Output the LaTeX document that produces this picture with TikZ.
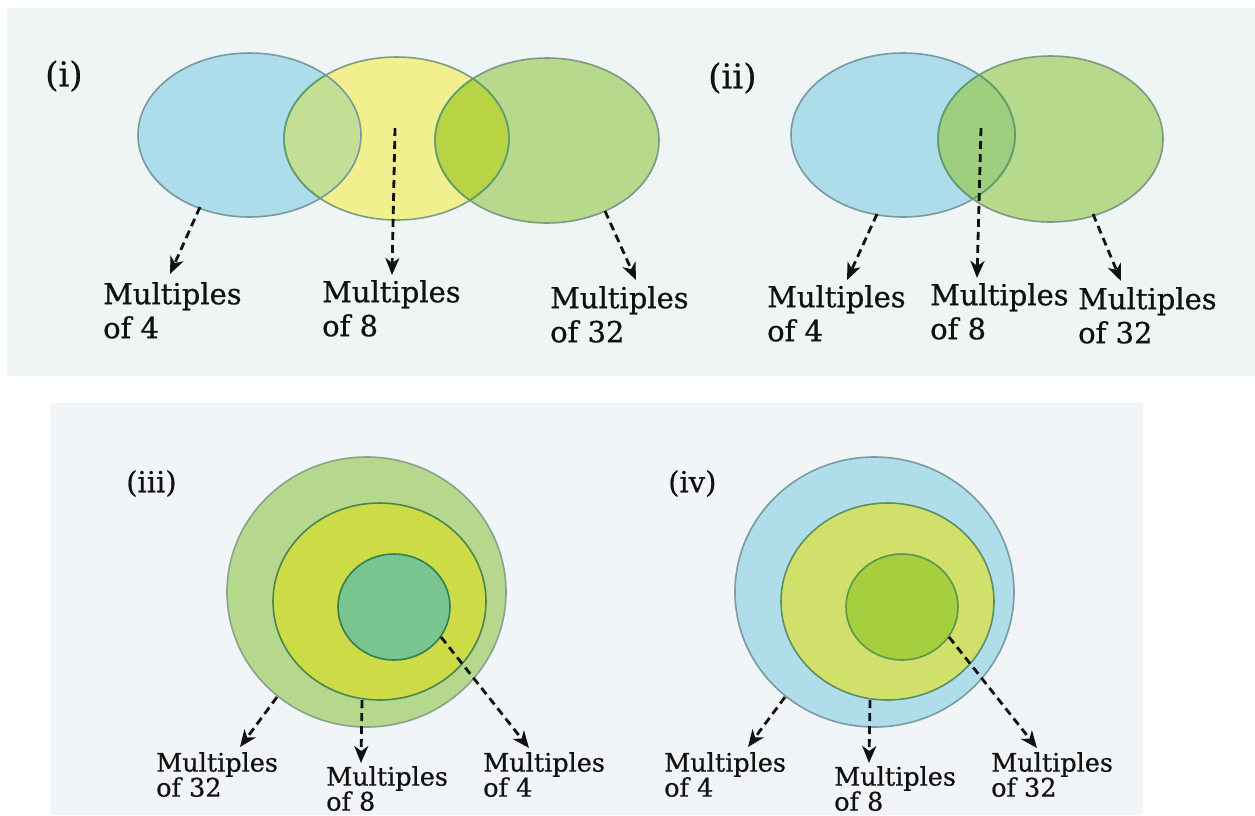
\documentclass[tikz,border=0pt]{standalone}
\usepackage{fontspec}
\setmainfont{DejaVu Serif}[FakeBold=0.6]
\usetikzlibrary{arrows.meta}
\definecolor{bgA}{HTML}{EFF4F4}
\definecolor{bgB}{HTML}{F1F5F8}
\definecolor{blueF}{HTML}{ADDCEA}
\definecolor{blueS}{HTML}{7A98A0}
\definecolor{yelF}{HTML}{F2EF8F}
\definecolor{yelS}{HTML}{7A9E84}
\definecolor{greF}{HTML}{B6D98B}
\definecolor{greS}{HTML}{7A9A82}
\definecolor{mixBY}{HTML}{C4DE96}
\definecolor{mixYG}{HTML}{B8D444}
\definecolor{mixBG}{HTML}{9DCF7F}
\definecolor{arcG}{HTML}{5AA068}
\definecolor{oGF}{HTML}{B5D88D}
\definecolor{oGS}{HTML}{86A48C}
\definecolor{mYF}{HTML}{CDDB47}
\definecolor{mYS}{HTML}{4A8650}
\definecolor{iTF}{HTML}{7AC48F}
\definecolor{iTS}{HTML}{2B8253}
\definecolor{oBF}{HTML}{AFDDEA}
\definecolor{oBS}{HTML}{7A9BA2}
\definecolor{mLF}{HTML}{D1E06B}
\definecolor{mLS}{HTML}{5A9062}
\definecolor{iGF}{HTML}{A6CF3F}
\definecolor{iGS}{HTML}{5A964E}
\definecolor{ink}{HTML}{111111}
\tikzset{
  lbl/.style={anchor=north west, inner sep=0pt, align=left, text=ink,
    font={\fontsize{29}{34}\selectfont\lineskiplimit=-20pt}},
  lbls/.style={anchor=north west, inner sep=0pt, align=left, text=ink,
    font={\fontsize{25.5}{25}\selectfont\lineskiplimit=-20pt}},
  num/.style={anchor=west, inner sep=0pt, text=ink, font=\fontsize{34}{38}\selectfont},
  nums/.style={anchor=west, inner sep=0pt, text=ink, font=\fontsize{29}{32}\selectfont},
  ptr/.style={draw=ink, line width=2.8pt, dash pattern=on 8pt off 5pt,
    -{Stealth[length=17pt,width=14pt,inset=5pt]}},
  rim/.style={line width=1.6pt},
}
\begin{document}
\begin{tikzpicture}[x=1pt,y=-1pt]
\useasboundingbox (0,0) rectangle (1255,815);
\fill[white] (0,0) rectangle (1255,815);
\fill[bgA] (7,8) rectangle (1255,376);
\fill[bgB] (50,403) rectangle (1143,815);

% ---------- (i) ----------
\node[num] (n1) at (45,76) {(i)};
\fill[blueF] (249.5,135) ellipse [x radius=111.5pt, y radius=82pt];
\fill[yelF] (396.5,138.5) ellipse [x radius=112.5pt, y radius=81.5pt];
\fill[greF] (547,140.5) ellipse [x radius=112pt, y radius=82.5pt];
\begin{scope}
  \clip (249.5,135) ellipse [x radius=111.5pt, y radius=82pt];
  \fill[mixBY] (396.5,138.5) ellipse [x radius=112.5pt, y radius=81.5pt];
\end{scope}
\begin{scope}
  \clip (396.5,138.5) ellipse [x radius=112.5pt, y radius=81.5pt];
  \fill[mixYG] (547,140.5) ellipse [x radius=112pt, y radius=82.5pt];
\end{scope}
\draw[rim, blueS] (249.5,135) ellipse [x radius=111.5pt, y radius=82pt];
\draw[rim, yelS] (396.5,138.5) ellipse [x radius=112.5pt, y radius=81.5pt];
\draw[rim, greS] (547,140.5) ellipse [x radius=112pt, y radius=82.5pt];
\begin{scope}
  \clip (396.5,138.5) ellipse [x radius=112.5pt, y radius=81.5pt];
  \draw[rim, arcG] (547,140.5) ellipse [x radius=112pt, y radius=82.5pt];
\end{scope}
\begin{scope}
  \clip (547,140.5) ellipse [x radius=112pt, y radius=82.5pt];
  \draw[rim, arcG] (396.5,138.5) ellipse [x radius=112.5pt, y radius=81.5pt];
\end{scope}
\begin{scope}
  \clip (249.5,135) ellipse [x radius=111.5pt, y radius=82pt];
  \draw[rim, arcG] (396.5,138.5) ellipse [x radius=112.5pt, y radius=81.5pt];
\end{scope}

\node[lbl] (i4) at (103,282) {Multiples\\of 4};
\node[lbl] (i8) at (322,280) {Multiples\\of 8};
\node[lbl] (i32) at (550,286) {Multiples\\of 32};
\coordinate (ia) at (200,207); \coordinate (iat) at (170,274);
\coordinate (ib) at (395,128); \coordinate (ibt) at (392,275);
\coordinate (ic) at (605,211); \coordinate (ict) at (636,280);
\draw[ptr] (ia) -- (iat);
\draw[ptr] (ib) -- (ibt);
\draw[ptr] (ic) -- (ict);

% ---------- (ii) ----------
\node[num] (n2) at (708,78) {(ii)};
\fill[blueF] (903,135) ellipse [x radius=112pt, y radius=82pt];
\fill[greF] (1050.5,139) ellipse [x radius=112.5pt, y radius=83pt];
\begin{scope}
  \clip (903,135) ellipse [x radius=112pt, y radius=82pt];
  \fill[mixBG] (1050.5,139) ellipse [x radius=112.5pt, y radius=83pt];
\end{scope}
\draw[rim, blueS] (903,135) ellipse [x radius=112pt, y radius=82pt];
\draw[rim, greS] (1050.5,139) ellipse [x radius=112.5pt, y radius=83pt];
\begin{scope}
  \clip (903,135) ellipse [x radius=112pt, y radius=82pt];
  \draw[rim, arcG] (1050.5,139) ellipse [x radius=112.5pt, y radius=83pt];
\end{scope}
\begin{scope}
  \clip (1050.5,139) ellipse [x radius=112.5pt, y radius=83pt];
  \draw[rim, arcG] (903,135) ellipse [x radius=112pt, y radius=82pt];
\end{scope}

\node[lbl] (ii4) at (767,285) {Multiples\\of 4};
\node[lbl] (ii8) at (930,283) {Multiples\\of 8};
\node[lbl] (ii32) at (1078,287) {Multiples\\of 32};
\coordinate (iia) at (877,214); \coordinate (iiat) at (847,280);
\coordinate (iib) at (981,128); \coordinate (iibt) at (977,278);
\coordinate (iic) at (1093,214); \coordinate (iict) at (1121,281);
\draw[ptr] (iia) -- (iiat);
\draw[ptr] (iib) -- (iibt);
\draw[ptr] (iic) -- (iict);

% ---------- (iii) ----------
\node[nums] (n3) at (126,483.5) {(iii)};
\filldraw[rim, fill=oGF, draw=oGS] (366.5,592) ellipse [x radius=139.5pt, y radius=135pt];
\filldraw[rim, fill=mYF, draw=mYS] (379.5,601.5) ellipse [x radius=106.5pt, y radius=98.5pt];
\filldraw[rim, fill=iTF, draw=iTS] (394,607) ellipse [x radius=56pt, y radius=53pt];
\node[lbls] (iii32) at (156,752) {Multiples\\of 32};
\node[lbls] (iii8) at (326,766) {Multiples\\of 8};
\node[lbls] (iii4) at (483,752) {Multiples\\of 4};
\coordinate (iiia) at (277,697); \coordinate (iiiat) at (240,747);
\coordinate (iiib) at (362,700); \coordinate (iiibt) at (361,763);
\coordinate (iiic) at (441,637); \coordinate (iiict) at (529,748);
\draw[ptr] (iiia) -- (iiiat);
\draw[ptr] (iiib) -- (iiibt);
\draw[ptr] (iiic) -- (iiict);

% ---------- (iv) ----------
\node[nums] (n4) at (668,483.5) {(iv)};
\filldraw[rim, fill=oBF, draw=oBS] (874.5,592) ellipse [x radius=139.5pt, y radius=135pt];
\filldraw[rim, fill=mLF, draw=mLS] (887.5,601.5) ellipse [x radius=106.5pt, y radius=98.5pt];
\filldraw[rim, fill=iGF, draw=iGS] (902,607) ellipse [x radius=56pt, y radius=53pt];
\node[lbls] (iv4) at (664,752) {Multiples\\of 4};
\node[lbls] (iv8) at (834,766) {Multiples\\of 8};
\node[lbls] (iv32) at (991,752) {Multiples\\of 32};
\coordinate (iva) at (785,697); \coordinate (ivat) at (748,747);
\coordinate (ivb) at (870,700); \coordinate (ivbt) at (869,763);
\coordinate (ivc) at (949,637); \coordinate (ivct) at (1037,748);
\draw[ptr] (iva) -- (ivat);
\draw[ptr] (ivb) -- (ivbt);
\draw[ptr] (ivc) -- (ivct);
\end{tikzpicture}
\end{document}
